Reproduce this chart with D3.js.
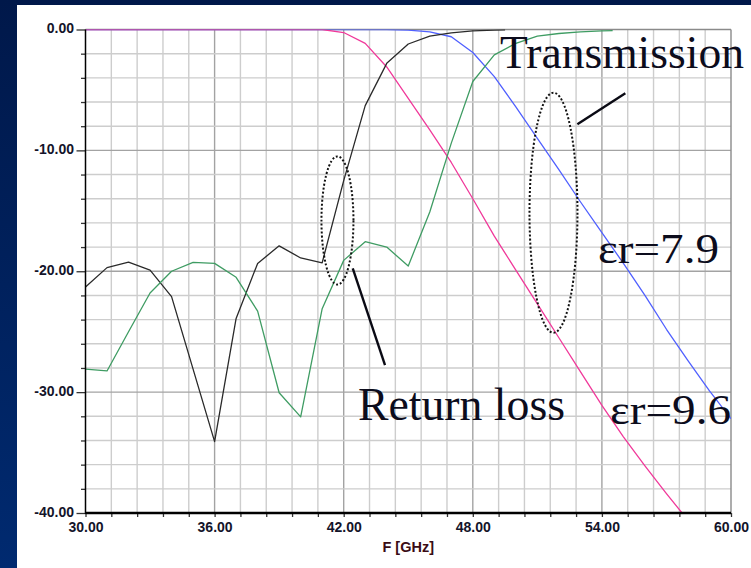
<!DOCTYPE html>
<html>
<head>
<meta charset="utf-8">
<script src="https://cdn.jsdelivr.net/npm/d3@7"></script>
<style>
  html, body { margin: 0; padding: 0; background: #001a4d; }
  svg { display: block; }
</style>
</head>
<body>
<svg id="chart" width="751" height="568"></svg>
<script>
// ---------------- data ----------------
// Return loss, er = 9.6 (black)
const freqRL96 = [30,31,32,33,34,35,36,37,38,39,40,41,42,43,44,45,46,47,48,49,49.5];
const rl96     = [-21.3,-19.7,-19.25,-19.9,-22.1,-28.1,-34.1,-23.9,-19.35,-17.9,-18.9,-19.3,-12.5,-6.3,-2.8,-1.2,-0.55,-0.28,-0.12,-0.05,-0.02];
// Return loss, er = 7.9 (green)
const freqRL79 = [30,31,32,33,34,35,36,37,38,39,40,41,42,43,44,45,46,47,48,49,50,51,52,53,54,54.5];
const rl79     = [-28.1,-28.25,-25.0,-21.8,-20.0,-19.26,-19.35,-20.5,-23.3,-30.05,-32.05,-23.1,-19.1,-17.55,-18.0,-19.57,-15.1,-9.4,-4.3,-2.1,-1.15,-0.55,-0.33,-0.2,-0.12,-0.1];
// Transmission, er = 9.6 (pink)
const freqT96 = [30,31,32,33,34,35,36,37,38,39,40,41,42,43,44,45,46,47,48,49,50,51,52,53,54,55,56,57,58];
const t96     = [0,0,0,0,0,0,0,0,0,0,0,0,-0.25,-1.15,-3.1,-5.7,-8.3,-11.0,-14.0,-17.1,-19.9,-22.7,-25.5,-28.3,-31.1,-33.7,-36.1,-38.4,-40.6];
// Transmission, er = 7.9 (blue)
const freqT79 = [30,31,32,33,34,35,36,37,38,39,40,41,42,43,44,45,46,47,48,49,50,51,52,53,54,55,56,57,58,59,60];
const t79     = [0,0,0,0,0,0,0,0,0,0,0,0,0,0,0,-0.05,-0.2,-0.6,-1.9,-3.9,-6.4,-9.0,-11.6,-14.25,-16.8,-19.35,-22.0,-24.8,-27.4,-29.9,-32.2];

const xTickValues = [30,36,42,48,54,60];
const yTickValues = [0,-10,-20,-30,-40];
const xLabel = "F [GHz]";

// annotations (data coordinates)
const ellipses = [
  {cf: 41.71, cv: -15.8, rf: 0.744, rv: 5.3},
  {cf: 51.75, cv: -15.16, rf: 1.115, rv: 9.93}
];
const pointers = [
  {f1: 52.86, v1: -7.84, f2: 55.09, v2: -5.28},
  {f1: 42.42, v1: -19.76, f2: 43.92, v2: -27.76}
];
const labels = [
  {text: "Transmission", x: 500, y: 67.5, size: 47, len: 244},
  {text: "\u03b5r=7.9", x: 598, y: 262.5, size: 42, len: 121},
  {text: "Return loss", x: 358, y: 419.5, size: 46, len: 207},
  {text: "\u03b5r=9.6", x: 610, y: 423.5, size: 42, len: 121}
];

// ---------------- layout ----------------
const W = 751, H = 568;
const L = 85.5, R = 731, T = 29.5, B = 513;

const svg = d3.select("#chart");
const defs = svg.append("defs");
const grad = defs.append("linearGradient").attr("id","bg").attr("x1",0).attr("y1",0).attr("x2",0).attr("y2",1);
grad.append("stop").attr("offset","0%").attr("stop-color","#00184a");
grad.append("stop").attr("offset","100%").attr("stop-color","#002a70");
defs.append("clipPath").attr("id","plotclip").append("rect")
  .attr("x", L).attr("y", T).attr("width", R - L).attr("height", B - T);

svg.append("rect").attr("width", W).attr("height", H).attr("fill", "url(#bg)");
svg.append("rect").attr("x", 17).attr("y", 5).attr("width", W - 17).attr("height", H - 5).attr("fill", "#ffffff");

const x = d3.scaleLinear().domain([30, 60]).range([L, R]);
const y = d3.scaleLinear().domain([-40, 0]).range([B, T]);

// grid
const grid = svg.append("g");
const vMinor = d3.range(1, 25).map(i => ({v: 30 + 1.2 * i, major: i % 5 === 0}));
const hMinor = d3.range(1, 20).map(j => ({v: -2 * j, major: j % 5 === 0}));
grid.selectAll(".vg").data(vMinor).join("line")
  .attr("x1", d => x(d.v)).attr("x2", d => x(d.v)).attr("y1", T).attr("y2", B)
  .attr("stroke", d => d.major ? "#a3a3a3" : "#cdcdcd").attr("stroke-width", 1.4);
grid.selectAll(".hg").data(hMinor).join("line")
  .attr("y1", d => y(d.v)).attr("y2", d => y(d.v)).attr("x1", L).attr("x2", R)
  .attr("stroke", d => d.major ? "#a3a3a3" : "#cdcdcd").attr("stroke-width", 1.4);

// border top/right
svg.append("line").attr("x1", L).attr("x2", R).attr("y1", T).attr("y2", T).attr("stroke", "#8a8a8a").attr("stroke-width", 1.4);
svg.append("line").attr("x1", R).attr("x2", R).attr("y1", T).attr("y2", B).attr("stroke", "#8a8a8a").attr("stroke-width", 1.4);

// curves
const plot = svg.append("g").attr("clip-path", "url(#plotclip)");
const line = d3.line().x(d => x(d[0])).y(d => y(d[1]));
const series = [
  {f: freqT79, v: t79, color: "#5060ff"},
  {f: freqT96, v: t96, color: "#f0399a"},
  {f: freqRL96, v: rl96, color: "#2a2a2a"},
  {f: freqRL79, v: rl79, color: "#3f9c63"}
];
series.forEach(s => {
  plot.append("path").datum(s.f.map((f, i) => [f, s.v[i]]))
    .attr("d", line).attr("fill", "none").attr("stroke", s.color).attr("stroke-width", 1.3)
    .attr("stroke-linejoin", "round");
});

// axes
const fontAxis = "'Liberation Sans', Arial, sans-serif";
const yAxis = svg.append("g").attr("transform", `translate(${L},0)`)
  .call(d3.axisLeft(y).tickValues(yTickValues).tickFormat(d => d.toFixed(2)).tickSize(9).tickPadding(2.5));
const yMinorAxis = svg.append("g").attr("transform", `translate(${L},0)`)
  .call(d3.axisLeft(y).tickValues(hMinor.filter(d => !d.major).map(d => d.v)).tickFormat("").tickSize(4.5));
const xAxis = svg.append("g").attr("transform", `translate(0,${B})`)
  .call(d3.axisBottom(x).tickValues(xTickValues).tickFormat(d => d.toFixed(2)).tickSize(4).tickPadding(5));
const xMinorAxis = svg.append("g").attr("transform", `translate(0,${B})`)
  .call(d3.axisBottom(x).tickValues(vMinor.filter(d => !d.major).map(d => d.v)).tickFormat("").tickSize(4));
[yAxis, yMinorAxis, xAxis, xMinorAxis].forEach(g => {
  g.select(".domain").remove();
  g.selectAll(".tick line").attr("stroke", "#333").attr("stroke-width", 1.3);
  g.selectAll(".tick text").attr("fill", "#14142a").attr("font-family", fontAxis)
    .attr("font-weight", "bold").attr("font-size", 14);
});
yAxis.selectAll(".tick text").attr("dy", "0.22em");
// axis lines
svg.append("line").attr("x1", L).attr("x2", L).attr("y1", T).attr("y2", B + 1).attr("stroke", "#000").attr("stroke-width", 1.5);
svg.append("line").attr("x1", L).attr("x2", R).attr("y1", B).attr("y2", B).attr("stroke", "#000").attr("stroke-width", 2.3);

// x label
svg.append("text").attr("x", (L + R) / 2).attr("y", 552).attr("text-anchor", "middle")
  .attr("font-family", fontAxis).attr("font-weight", "bold").attr("font-size", 14.5)
  .attr("fill", "#3a0c14").text(xLabel);

// annotations
const ann = svg.append("g");
ellipses.forEach(e => {
  ann.append("ellipse")
    .attr("cx", x(e.cf)).attr("cy", y(e.cv))
    .attr("rx", x(e.cf + e.rf) - x(e.cf)).attr("ry", y(e.cv - e.rv) - y(e.cv))
    .attr("fill", "none").attr("stroke", "#111").attr("stroke-width", 2).attr("stroke-dasharray", "2,2");
});
pointers.forEach(p => {
  ann.append("line").attr("x1", x(p.f1)).attr("y1", y(p.v1)).attr("x2", x(p.f2)).attr("y2", y(p.v2))
    .attr("stroke", "#0a0a14").attr("stroke-width", 2.4);
});
labels.forEach(l => {
  ann.append("text").attr("x", l.x).attr("y", l.y)
    .attr("font-family", "'Liberation Serif', 'Times New Roman', serif")
    .attr("font-size", l.size).attr("fill", "#0c0c1c")
    .attr("textLength", l.len).attr("lengthAdjust", "spacingAndGlyphs")
    .text(l.text);
});
</script>
</body>
</html>
